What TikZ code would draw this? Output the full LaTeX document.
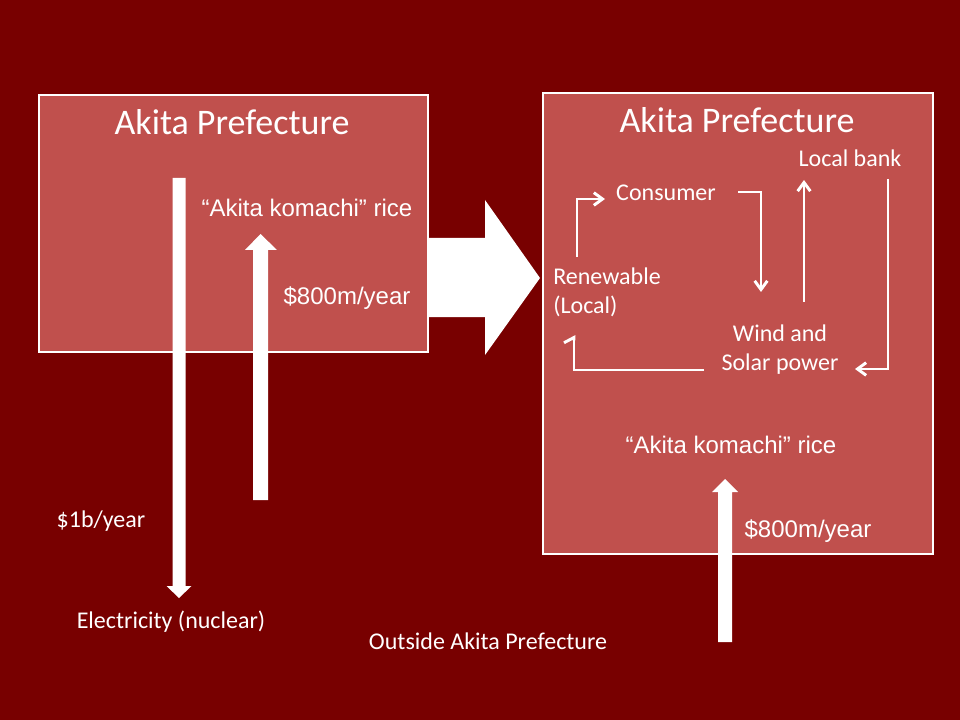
\documentclass[tikz,border=0pt]{standalone}
\usepackage{fontspec}
\setmainfont{Carlito}
\newfontfamily\arialfont{Liberation Sans}
\usetikzlibrary{arrows.meta}
\definecolor{bgred}{HTML}{780000}
\definecolor{boxred}{HTML}{C0504D}
\begin{document}
\begin{tikzpicture}[x=0.75pt,y=-0.75pt,
  region/.style={draw=white, line width=1.6pt, fill=boxred, anchor=north west, inner sep=0pt},
  titletext/.style={text=white, font=\fontsize{27}{32}\selectfont, inner sep=0pt},
  lbl/.style={text=white, font=\fontsize{18}{21.75}\selectfont, inner sep=0pt},
  alab/.style={text=white, font=\arialfont\fontsize{18}{22}\selectfont, inner sep=0pt},
  thinarrow/.style={draw=white, line width=2.2pt, -{Straight Barb[length=6.5pt,width=9.5pt]}},
  harpoonarrow/.style={draw=white, line width=2.2pt, -{Straight Barb[left,length=4pt,width=15pt]}},
  fatarrow/.style={fill=white}]
\fill[bgred] (0,0) rectangle (960,720);
\useasboundingbox (0,0) rectangle (960,720);

% regions
\node[region, minimum width=291.75pt, minimum height=192.75pt] (leftbox) at (38,94) {};
\node[region, minimum width=292.5pt, minimum height=345.75pt] (rightbox) at (542,92) {};

% titles
\node[titletext] (lefttitle) at (232,122) {Akita Prefecture};
\node[titletext] (righttitle) at (737,120) {Akita Prefecture};

% left box texts
\node[alab] (ricel) at (307,208) {“Akita komachi” rice};
\node[alab] (moneyl) at (347,298) {\$800m/year};
\node[lbl] (billion) at (101,521) {\$1b/year};
\node[lbl] (elec) at (171,622) {Electricity (nuclear)};
\node[lbl] (outside) at (488,641) {Outside Akita Prefecture};

% right box texts
\node[lbl] (bank) at (850,158) {Local bank};
\node[lbl] (cons) at (666,193) {Consumer};
\node[lbl, align=left, anchor=west] (ren) at (553,292) {Renewable\\(Local)};
\node[lbl, align=center] (wind) at (780,350) {Wind and\\Solar power};
\node[alab] (ricer) at (731,445) {“Akita komachi” rice};
\node[alab] (moneyr) at (808,531) {\$800m/year};

% thick arrows
\fill[fatarrow] (172.5,178) -- (185.5,178) -- (185.5,586) -- (191.5,586) -- (179,598) -- (166.5,586) -- (172.5,586) -- cycle;
\fill[fatarrow] (253,500) -- (268,500) -- (268,250) -- (277,250) -- (260.5,234) -- (245,250) -- (253,250) -- cycle;
\fill[fatarrow] (718,642) -- (732,642) -- (732,492) -- (738,492) -- (725,479) -- (712,492) -- (718,492) -- cycle;
\fill[fatarrow] (427,238) -- (485,238) -- (485,200) -- (540,278) -- (485,355) -- (485,317) -- (427,317) -- cycle;

% cycle connectors
\coordinate (c1) at (577,257);
\coordinate (c2) at (605,199);
\draw[thinarrow] (c1) |- (c2);
\coordinate (c3) at (738,192);
\coordinate (c4) at (761,292);
\draw[thinarrow] (c3) -| (c4);
\coordinate (c5) at (804,302);
\coordinate (c6) at (804,180);
\draw[thinarrow] (c5) -- (c6);
\coordinate (c7) at (888,179);
\coordinate (c8) at (855,369);
\draw[thinarrow] (c7) |- (c8);
\coordinate (c9) at (704,370);
\coordinate (c10) at (574,335);
\draw[harpoonarrow] (c9) -| (c10);
\end{tikzpicture}
\end{document}
